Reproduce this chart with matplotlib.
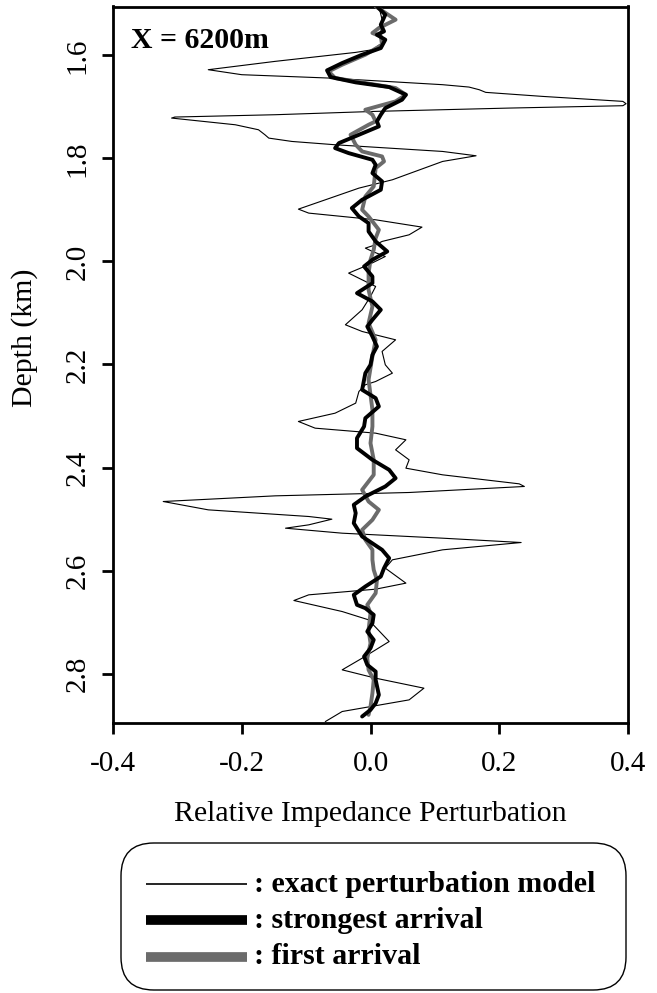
import matplotlib
matplotlib.use("Agg")
import matplotlib.pyplot as plt
from matplotlib.patches import FancyBboxPatch
from matplotlib.lines import Line2D

# exact perturbation model (thin line)
exact_depth = [1.5047, 1.5306, 1.5565, 1.5759, 1.5889, 1.5941, 1.6115, 1.6277, 1.6374, 1.6439,
               1.6568, 1.6614, 1.6666, 1.6717, 1.6795, 1.6892, 1.6937, 1.6976, 1.7022, 1.7086,
               1.7151, 1.7196, 1.7216, 1.7346, 1.7443, 1.7540, 1.7605, 1.7670, 1.7734, 1.7864,
               1.7948, 1.8058, 1.8414, 1.8576, 1.8802, 1.8984, 1.9061, 1.9191, 1.9333, 1.9482,
               1.9611, 1.9676, 1.9741, 1.9806, 1.9903, 2.0064, 2.0226, 2.0356, 2.0485, 2.0679,
               2.0938, 2.1229, 2.1359, 2.1521, 2.1747, 2.2006, 2.2168, 2.2330, 2.2394, 2.2524,
               2.2750, 2.2945, 2.3106, 2.3236, 2.3333, 2.3462, 2.3657, 2.3851, 2.4013, 2.4142,
               2.4317, 2.4368, 2.4485, 2.4550, 2.4660, 2.4822, 2.4951, 2.5003, 2.5113, 2.5178,
               2.5275, 2.5372, 2.5456, 2.5598, 2.5792, 2.5954, 2.6245, 2.6362, 2.6472, 2.6582,
               2.6796, 2.6957, 2.7378, 2.7702, 2.7928, 2.8090, 2.8284, 2.8511, 2.8737, 2.8931]
exact_value = [0.013, 0.018, 0.016, 0.018, 0.003, -0.023, -0.148, -0.252, -0.200, -0.065,
               0.112, 0.153, 0.169, 0.179, 0.267, 0.392, 0.397, 0.392, 0.215, 0.008,
               -0.148, -0.304, -0.309, -0.210, -0.174, -0.164, -0.158, -0.122, -0.055, 0.112,
               0.164, 0.112, 0.034, -0.018, -0.070, -0.112, -0.096, 0.008, 0.080, 0.060,
               0.018, 0.008, -0.008, 0.003, 0.023, -0.003, -0.034, -0.013, 0.008, 0.000,
               -0.013, -0.039, -0.013, 0.039, 0.018, 0.023, 0.034, 0.008, -0.008, -0.018,
               -0.023, -0.055, -0.112, -0.086, 0.008, 0.055, 0.039, 0.060, 0.055, 0.112,
               0.231, 0.239, 0.060, -0.148, -0.322, -0.252, -0.096, -0.060, -0.096, -0.132,
               -0.044, 0.112, 0.234, 0.112, 0.034, 0.023, 0.055, 0.008, -0.096, -0.119,
               -0.044, -0.003, 0.029, -0.013, -0.044, 0.008, 0.083, 0.060, -0.044, -0.070]

# strongest arrival (thick black)
strong_depth = [1.5047, 1.5209, 1.5403, 1.5533, 1.5598, 1.5695, 1.5857, 1.5986, 1.6148, 1.6290,
                1.6420, 1.6523, 1.6614, 1.6763, 1.6860, 1.7022, 1.7151, 1.7280, 1.7378, 1.7540,
                1.7702, 1.7799, 1.7896, 1.8026, 1.8123, 1.8285, 1.8446, 1.8608, 1.8802, 1.8964,
                1.9126, 1.9256, 1.9417, 1.9611, 1.9806, 1.9967, 2.0097, 2.0291, 2.0420, 2.0615,
                2.0776, 2.0938, 2.1132, 2.1262, 2.1456, 2.1650, 2.1812, 2.2006, 2.2168, 2.2491,
                2.2653, 2.2815, 2.3042, 2.3203, 2.3430, 2.3624, 2.3851, 2.4045, 2.4207, 2.4368,
                2.4563, 2.4724, 2.4886, 2.5080, 2.5339, 2.5598, 2.5760, 2.5954, 2.6116, 2.6310,
                2.6472, 2.6666, 2.6731, 2.6860, 2.7022, 2.7184, 2.7346, 2.7508, 2.7669, 2.7831,
                2.7961, 2.8122, 2.8414, 2.8576, 2.8705, 2.8834]
strong_value = [0.010, 0.023, 0.016, 0.021, 0.010, 0.023, 0.016, -0.013, -0.044, -0.0675,
                -0.062, -0.023, 0.029, 0.055, 0.049, 0.023, 0.016, 0.010, 0.013, -0.018,
                -0.049, -0.055, -0.034, 0.003, 0.008, 0.003, 0.018, 0.016, -0.013, -0.029,
                -0.018, -0.003, -0.003, 0.008, 0.026, 0.003, -0.010, 0.003, 0.003, -0.021,
                0.003, 0.016, 0.003, -0.005, 0.003, 0.010, 0.003, 0.000, -0.008, -0.013,
                0.008, 0.013, -0.008, -0.010, -0.021, -0.021, 0.003, 0.029, 0.039, 0.023,
                -0.008, -0.026, -0.023, -0.026, -0.013, 0.018, 0.029, 0.021, 0.016, -0.008,
                -0.026, -0.021, -0.008, 0.005, 0.003, -0.005, 0.005, 0.000, -0.010, -0.005,
                0.008, 0.008, 0.013, 0.008, 0.000, -0.013]

# first arrival (thick gray)
first_depth = [1.5047, 1.5306, 1.5468, 1.5565, 1.5630, 1.5792, 1.5986, 1.6180, 1.6310, 1.6439,
               1.6536, 1.6633, 1.6763, 1.6892, 1.7054, 1.7151, 1.7280, 1.7346, 1.7540, 1.7734,
               1.7864, 1.7961, 1.8058, 1.8188, 1.8543, 1.8738, 1.8997, 1.9126, 1.9385, 1.9547,
               1.9773, 1.9967, 2.0226, 2.0550, 2.0873, 2.1197, 2.1521, 2.1844, 2.2297, 2.2880,
               2.3203, 2.3527, 2.3851, 2.4142, 2.4433, 2.4660, 2.4822, 2.5016, 2.5210, 2.5404,
               2.5598, 2.5792, 2.5987, 2.6181, 2.6440, 2.6666, 2.6828, 2.7152, 2.7410, 2.7702,
               2.7928, 2.8122, 2.8381, 2.8640, 2.8802]
first_value = [0.008, 0.039, 0.013, 0.003, 0.016, 0.018, -0.008, -0.044, -0.065, -0.055,
               -0.008, 0.039, 0.055, 0.039, -0.008, 0.003, 0.008, -0.003, -0.031, -0.023,
               -0.013, 0.018, 0.021, 0.008, 0.005, -0.008, -0.013, -0.003, 0.013, 0.008,
               0.005, 0.000, -0.003, -0.003, 0.003, -0.003, 0.008, 0.003, -0.003, 0.003,
               0.003, 0.000, 0.005, 0.005, -0.013, -0.003, 0.013, 0.003, -0.013, -0.008,
               0.003, 0.003, 0.005, 0.010, 0.008, -0.005, 0.000, -0.003, 0.000, -0.005,
               -0.003, 0.005, 0.003, 0.000, -0.003]

x_ticks = [-0.4, -0.2, 0.0, 0.2, 0.4]
x_ticklabels = ["-0.4", "-0.2", "0.0", "0.2", "0.4"]
y_ticks = [1.6, 1.8, 2.0, 2.2, 2.4, 2.6, 2.8]
y_ticklabels = ["1.6", "1.8", "2.0", "2.2", "2.4", "2.6", "2.8"]
legend_labels = [": exact perturbation model", ": strongest arrival", ": first arrival"]

plt.rcParams['font.family'] = ['Liberation Serif', 'DejaVu Serif']

W, H = 657, 993
fig = plt.figure(figsize=(W / 100, H / 100), dpi=100)
ax = fig.add_axes([113 / W, 1 - 723 / H, (628 - 113) / W, (723 - 6.5) / H])

GRAY = '#6b6b6b'
ax.plot(exact_value, exact_depth, color='black', lw=0.8, zorder=2)
ax.plot(first_value, first_depth, color=GRAY, lw=2.8, zorder=3,
        solid_capstyle='round', solid_joinstyle='round')
ax.plot(strong_value, strong_depth, color='black', lw=2.8, zorder=4,
        solid_capstyle='round', solid_joinstyle='round')

ax.set_xlim(-0.4, 0.4)
ax.set_ylim(2.896, 1.505)
ax.set_xticks(x_ticks)
ax.set_xticklabels(x_ticklabels, fontsize=21)
ax.set_yticks(y_ticks)
ax.set_yticklabels(y_ticklabels, fontsize=21, rotation=90, va='center')
ax.tick_params(direction='out', length=8, width=2)
ax.tick_params(axis='x', pad=12)
ax.tick_params(axis='y', pad=8)
for s in ax.spines.values():
    s.set_linewidth(2)
ax.set_ylabel("Depth (km)", fontsize=21.5)
ax.yaxis.set_label_coords(-0.171, 0.537)
ax.set_xlabel("Relative Impedance Perturbation", fontsize=21.5)
ax.xaxis.set_label_coords(0.5, (723 - 814) / 716.5)
ax.xaxis.label.set_va('center')
ax.yaxis.label.set_va('center')

ax.text(0.035, 0.953, "X = 6200m", transform=ax.transAxes, fontsize=21.5,
        fontweight='bold', ha='left', va='center')

# legend box drawn in figure pixel coordinates
def fx(px):
    return px / W

def fy(py):
    return 1 - py / H

box = FancyBboxPatch((fx(121), fy(990)), fx(626) - fx(121), fy(843) - fy(990),
                     boxstyle="round,pad=0,rounding_size=0.05",
                     transform=fig.transFigure, facecolor='white',
                     edgecolor='black', lw=1.0, mutation_aspect=W / H)
fig.patches.append(box)

handles = [dict(color='black', lw=1.2), dict(color='black', lw=7), dict(color=GRAY, lw=7)]
ys = [884, 920, 957]
for lab, hs, yy in zip(legend_labels, handles, ys):
    fig.add_artist(Line2D([fx(146), fx(247)], [fy(yy), fy(yy)], transform=fig.transFigure,
                          solid_capstyle='butt', **hs))
    fig.text(fx(254), fy(yy), lab, fontsize=21.5, fontweight='bold', ha='left', va='center')

fig.savefig("out.png", dpi=100)
